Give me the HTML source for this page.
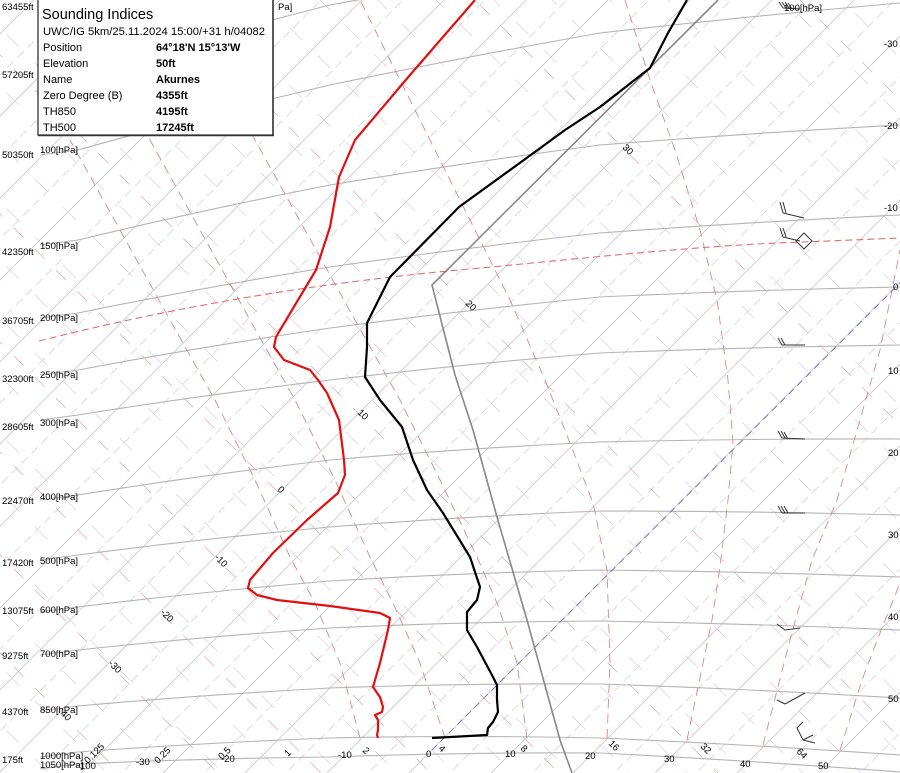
<!DOCTYPE html>
<html><head><meta charset="utf-8"><style>
html,body{margin:0;padding:0;background:#fff;width:900px;height:773px;overflow:hidden;}
svg{display:block;overflow:hidden;font-family:"Liberation Sans",sans-serif;}
</style></head><body>
<svg id="s" width="900" height="773" viewBox="0 0 900 773" xmlns="http://www.w3.org/2000/svg">
<defs><clipPath id="cp"><rect x="0" y="0" width="900" height="773"/></clipPath></defs>
<g clip-path="url(#cp)">
<g id="grid"></g>
<g id="curves" fill="none"></g>
<line x1="432" y1="750" x2="900" y2="283" stroke="#7070d8" stroke-width="0.9" stroke-dasharray="7,5"/>
<path d="M39,341 C200,300 350,280 459,270 S700,245 804,242 L900,238" fill="none" stroke="#e07070" stroke-width="1.1" stroke-dasharray="7,4"/>
<polyline points="572,773 560,740 527,620 497,517 473,430 455,375 432,285 718,0" fill="none" stroke="#888" stroke-width="1.6"/>
<polyline fill="none" stroke="#e01010" stroke-width="2.2" stroke-linejoin="round" points="475,0 410,75 355,140 339,177 330,227 316,270 298,300 276,337 274,347 284,360 310,370 318,380 327,393 339,420 344,460 345,475 338,493 307,520 273,553 250,580 248,588 257,595 277,600 330,606 380,613 390,618 388,630 380,663 373,687 380,697 383,707 382,712 375,715 378,720 378,730 377,735 378,738"/>
<polyline fill="none" stroke="#000" stroke-width="2.2" stroke-linejoin="round" points="687,0 668,33 650,68 600,107 565,130 528,157 459,207 390,277 367,323 367,347 365,377 380,400 402,427 413,460 427,490 443,513 470,557 480,587 477,600 467,612 467,630 477,647 493,677 497,685 497,700 498,712 493,722 488,728 487,735 432,738"/>
<g stroke="#333" stroke-width="1" fill="none">
<path d="M783,8 L800,9 M783,8 L779,2 M786,8 L782,2 M789,8 L785,2 M792,9 L788,3"/>
<path d="M783,213 L804,218 M783,213 L780,202 M786,213 L783,202"/>
<path d="M783,237 L800,241 M783,237 L780,228 M786,237 L783,228"/>
<path d="M804,233 L812,241 L804,249 L796,241 Z"/>
<path d="M782,345 L805,345 M782,345 L778,338 M785,345 L781,338"/>
<path d="M782,438 L805,439 M782,438 L778,431 M785,438 L781,431 M788,439 L784,432"/>
<path d="M782,513 L805,513 M782,513 L778,506 M785,513 L781,506 M788,513 L784,506"/>
<path d="M785,630 L800,628 M785,630 L777,624"/>
<path d="M785,704 L805,693 M785,704 L777,700"/>
<path d="M803,740 L797,728 L803,722 M803,740 L815,743 M803,740 L813,735"/>
</g>
</g>
<rect x="38" y="-1" width="235" height="136" fill="#fff" stroke="#222" stroke-width="1.2"/>
<line x1="273" y1="0" x2="273" y2="136" stroke="#333" stroke-width="1.5"/>
<line x1="38" y1="135.5" x2="274" y2="135.5" stroke="#333" stroke-width="1.5"/>
<g font-size="11" fill="#000">
<text x="42" y="19" font-size="14.5">Sounding Indices</text>
<text x="43" y="35" textLength="222" lengthAdjust="spacingAndGlyphs">UWC/IG 5km/25.11.2024 15:00/+31 h/04082</text>
<text x="43" y="51">Position</text><text x="156" y="51" font-weight="bold">64°18'N 15°13'W</text>
<text x="43" y="67">Elevation</text><text x="156" y="67" font-weight="bold">50ft</text>
<text x="43" y="83">Name</text><text x="156" y="83" font-weight="bold">Akurnes</text>
<text x="43" y="99">Zero Degree (B)</text><text x="156" y="99" font-weight="bold">4355ft</text>
<text x="43" y="115">TH850</text><text x="156" y="115" font-weight="bold">4195ft</text>
<text x="43" y="131">TH500</text><text x="156" y="131" font-weight="bold">17245ft</text>
</g>
<g font-size="9.5" fill="#000">
<text x="2" y="10">63455ft</text><text x="2" y="78">57205ft</text>
<text x="2" y="158">50350ft</text><text x="40" y="153">100[hPa]</text>
<text x="2" y="255">42350ft</text><text x="40" y="249">150[hPa]</text>
<text x="2" y="324">36705ft</text><text x="40" y="321">200[hPa]</text>
<text x="2" y="382">32300ft</text><text x="40" y="378">250[hPa]</text>
<text x="2" y="430">28605ft</text><text x="40" y="426">300[hPa]</text>
<text x="2" y="504">22470ft</text><text x="40" y="500">400[hPa]</text>
<text x="2" y="566">17420ft</text><text x="40" y="564">500[hPa]</text>
<text x="2" y="614">13075ft</text><text x="40" y="613">600[hPa]</text>
<text x="2" y="659">9275ft</text><text x="40" y="657">700[hPa]</text>
<text x="2" y="715">4370ft</text><text x="40" y="713">850[hPa]</text>
<text x="2" y="763">175ft</text><text x="40" y="759">1000[hPa]</text>
<text x="40" y="768">1050[hPa]</text><text x="80" y="769">100</text>
<text x="278" y="10">Pa]</text><text x="784" y="11">100[hPa]</text>
<text x="884" y="47">-30</text><text x="884" y="129">-20</text><text x="884" y="211">-10</text>
<text x="893" y="290">0</text><text x="888" y="374">10</text><text x="888" y="456">20</text>
<text x="888" y="538">30</text><text x="888" y="620">40</text><text x="888" y="702">50</text>
<text x="136" y="765">-30</text><text x="221" y="762">-20</text><text x="338" y="758">-10</text>
<text x="426" y="757">0</text><text x="505" y="757">10</text><text x="585" y="759">20</text>
<text x="664" y="762">30</text><text x="740" y="767">40</text><text x="818" y="769">50</text>
</g>
<g font-size="9.5" fill="#000">
<text transform="translate(88,764) rotate(-45)">0.125</text>
<text transform="translate(158,764) rotate(-45)">0.25</text>
<text transform="translate(222,760) rotate(-45)">0.5</text>
<text transform="translate(288,757) rotate(-45)">1</text>
<text transform="translate(362,751) rotate(45)">2</text>
<text transform="translate(438,749) rotate(45)">4</text>
<text transform="translate(520,749) rotate(45)">8</text>
<text transform="translate(608,744) rotate(45)">16</text>
<text transform="translate(700,747) rotate(45)">32</text>
<text transform="translate(796,752) rotate(45)">64</text>
<text transform="translate(60,714) rotate(45)">40</text>
<text transform="translate(108,664) rotate(45)">-30</text>
<text transform="translate(160,613) rotate(45)">-20</text>
<text transform="translate(214,558) rotate(45)">-10</text>
<text transform="translate(277,490) rotate(45)">0</text>
<text transform="translate(357,413) rotate(45)">10</text>
<text transform="translate(465,304) rotate(45)">20</text>
<text transform="translate(622,148) rotate(45)">30</text>
</g>
</svg>
<script>
(function(){
var NS="http://www.w3.org/2000/svg",g=document.getElementById("grid"),c=document.getElementById("curves");
function el(p,tag,a){var e=document.createElementNS(NS,tag);for(var k in a)e.setAttribute(k,a[k]);p.appendChild(e);return e;}
for(var T=-150;T<=70;T+=10){var k=1182+8.2*T;
 el(g,"line",{x1:k-800,y1:800,x2:k+100,y2:-100,stroke:"#c8c8c8","stroke-width":0.8});
 var k2=k+41;el(g,"line",{x1:k2-800,y1:800,x2:k2+100,y2:-100,stroke:"#dadada","stroke-width":0.9,"stroke-dasharray":"9,5"});}
for(var m=-900;m<=800;m+=58){el(g,"line",{x1:-50,y1:-50+m,x2:1000,y2:1000+m,stroke:"#e2c8e8","stroke-width":0.7,"stroke-dasharray":"18,22"});}
[653,555,452,342,214,55,-162,-475,-800].forEach(function(m){el(g,"line",{x1:-50,y1:-50+m,x2:1000,y2:1000+m,stroke:"#dcaaaa","stroke-width":0.7,"stroke-dasharray":"14,16"});});
var P=[[75,5,-40,-70],[150,85,33,3],[240,185,145,125],[313,267,233,215],[370,328,297,287],[415,380,353,345],[495,460,442,439],[555,527,511,515],[607,581,570,577],[650,628,621,630],[706,688,684,698],[752,738,738,755],[764,757,753,772]];
P.forEach(function(p){var d="M40,"+(p[0]+5)+" L78,"+p[0]+" Q200,"+((p[0]+p[1])/2-2)+" 330,"+p[1]+" Q470,"+((p[1]+p[2])/2-3)+" 600,"+p[2]+" Q750,"+((p[2]+p[3])/2-2)+" 900,"+p[3];
 el(g,"path",{d:d,fill:"none",stroke:"#b4b4b4","stroke-width":1.1});});
var M=["360,738 340,663 315,603 290,557 255,480 215,400 170,320 120,230 70,140",
"445,738 420,663 393,603 370,557 335,480 295,400 250,320 200,230 150,140 100,50 70,0",
"527,738 517,663 497,603 477,557 440,480 400,400 355,320 305,230 255,140 205,50 180,0",
"607,738 610,663 607,570 593,503 570,443 545,380 510,300 470,220 430,140 390,60 360,0",
"687,740 712,620 720,567 728,500 733,443 728,380 717,300 700,230 675,150 650,80 625,0",
"763,745 790,640 812,560 837,500 860,420 880,350 890,300 900,250",
"840,750 862,680 880,633 900,583"];
M.forEach(function(p){el(c,"polyline",{points:p,stroke:"#d48a8a","stroke-width":0.9,"stroke-dasharray":"9,6"});});
})();
</script>
</body></html>
